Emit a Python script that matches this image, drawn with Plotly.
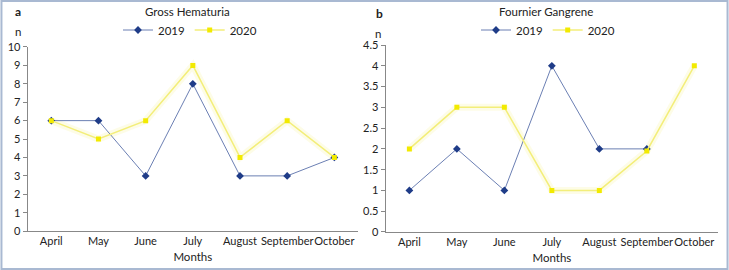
import plotly.graph_objects as go
from plotly.subplots import make_subplots

months = ["April", "May", "June", "July", "August", "September", "October"]
hematuria_2019 = [6, 6, 3, 8, 3, 3, 4]
hematuria_2020 = [6, 5, 6, 9, 4, 6, 4]
fournier_2019 = [1, 2, 1, 4, 2, 2, None]
fournier_2020 = [2, 3, 3, 1, 1, 1.95, 4]

BLUE = "#1f3c88"
BLUE_LINE = "#6b7fb3"
YELLOW = "#f2ea00"
YELLOW_LINE = "#f3ee7a"
FONT = "Lato"

fig = make_subplots(rows=1, cols=2)

def add_series(col, y19, y20, legend):
    fig.add_trace(go.Scatter(x=months, y=y20, mode="lines",
                             line=dict(color="rgba(245,240,120,0.18)", width=7),
                             showlegend=False, hoverinfo="skip"), row=1, col=col)
    fig.add_trace(go.Scatter(x=months, y=y19, mode="lines+markers", name="2019",
                             line=dict(color=BLUE_LINE, width=1),
                             marker=dict(symbol="diamond", size=6, color=BLUE),
                             legend=legend, connectgaps=False), row=1, col=col)
    fig.add_trace(go.Scatter(x=months, y=y20, mode="lines+markers", name="2020",
                             line=dict(color=YELLOW_LINE, width=1.5),
                             marker=dict(symbol="square", size=5, color=YELLOW),
                             legend=legend), row=1, col=col)

add_series(1, hematuria_2019, hematuria_2020, "legend")
add_series(2, fournier_2019, fournier_2020, "legend2")

axis_common = dict(showgrid=False, zeroline=False, showline=True, linecolor="#888888",
                   linewidth=1, tickfont=dict(size=11, color="#222"), color="#222",
                   automargin=False)
fig.update_xaxes(**axis_common, ticks="", range=[-0.5, 6.5], tickangle=0,
                 title=dict(text="Months", font=dict(size=11.5), standoff=6))
fig.update_yaxes(**axis_common, ticks="outside", ticklen=4, tickcolor="#888888")
fig.update_xaxes(domain=[0.038, 0.491], row=1, col=1)
fig.update_xaxes(domain=[0.529, 0.985], row=1, col=2)
fig.update_yaxes(domain=[0.144, 0.826], range=[0, 10], dtick=1, row=1, col=1)
fig.update_yaxes(domain=[0.141, 0.833], range=[0, 4.5], dtick=0.5, row=1, col=2)

def txt(t, x, y, size=11.5):
    return dict(text=t, x=x/729, y=1-y/270, xref="paper", yref="paper", showarrow=False,
                xanchor="center", yanchor="middle", font=dict(size=size))

ann = [
    txt("<b>a</b>", 18, 12, 12),
    txt("Gross Hematuria", 188, 12),
    txt("n", 18, 31),
    txt("<b>b</b>", 379, 13, 12),
    txt("Fournier Gangrene", 546, 12),
    txt("n", 378, 33),
]

fig.update_layout(
    width=729, height=270,
    margin=dict(l=0, r=0, t=0, b=0, autoexpand=False),
    paper_bgcolor="white", plot_bgcolor="white",
    font=dict(family=FONT, size=11, color="#222"),
    annotations=ann,
    legend=dict(orientation="h", x=190/729, xanchor="center", y=1-30/270, yanchor="middle",
                font=dict(size=11.5), itemwidth=30, tracegroupgap=0, bgcolor="rgba(0,0,0,0)"),
    legend2=dict(orientation="h", x=548/729, xanchor="center", y=1-30/270, yanchor="middle",
                 font=dict(size=11.5), itemwidth=30, tracegroupgap=0, bgcolor="rgba(0,0,0,0)"),
    shapes=[dict(type="rect", xref="paper", yref="paper", x0=0.002, x1=0.998, y0=0.004, y1=0.996,
                 line=dict(color="#a9b9d2", width=2))],
)

fig.write_html("out.html", config={"displayModeBar": False},
               post_script="document.body.style.margin='0';document.body.style.padding='0';")
